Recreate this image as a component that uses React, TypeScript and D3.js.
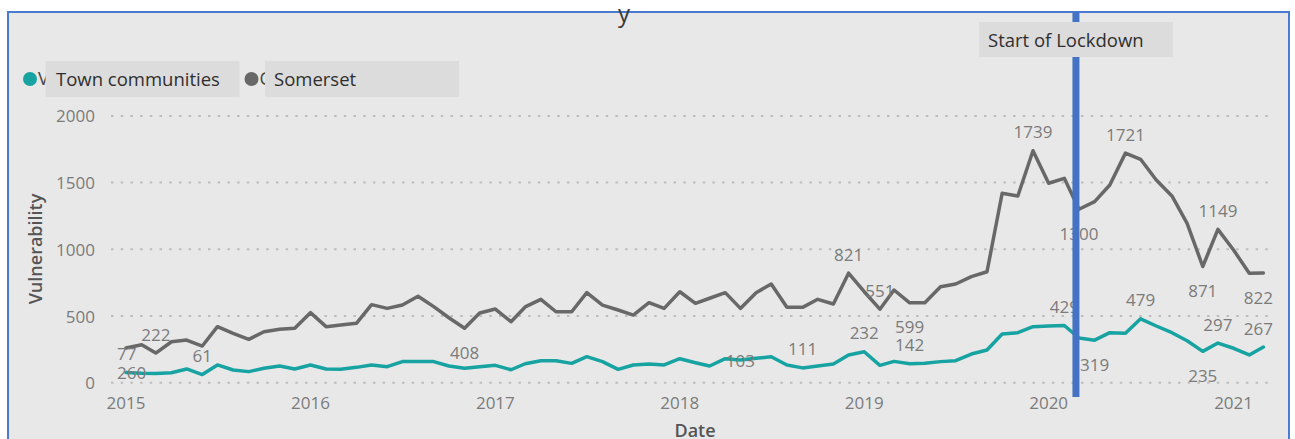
import React from "react";
import * as d3 from "d3";

// ---- data ----
const seriesNames = ["Town communities", "Somerset"];
const startYear = 2015;
const monthCount = 75; // Jan 2015 .. Mar 2021

const somerset = [
  260, 285, 222, 307, 320, 275, 420, 370, 325, 382, 400, 408,
  525, 420, 432, 445, 585, 557, 582, 648, 570, 487, 408, 522,
  552, 457, 568, 625, 532, 532, 675, 582, 545, 507, 600, 557,
  682, 595, 633, 675, 557, 675, 740, 565, 565, 625, 590, 821,
  682, 551, 695, 599, 600, 720, 740, 795, 832, 1420, 1400, 1739,
  1495, 1532, 1300, 1357, 1482, 1721, 1675, 1520, 1400, 1195, 871, 1149,
  995, 820, 822,
];

const town = [
  77, 70, 69, 75, 103, 61, 133, 95, 83, 108, 125, 103,
  133, 103, 100, 115, 133, 120, 158, 158, 158, 125, 108, 120,
  130, 97, 142, 165, 165, 145, 195, 158, 100, 133, 140, 133,
  180, 150, 125, 180, 170, 183, 195, 133, 111, 125, 140, 208,
  232, 130, 160, 142, 145, 158, 165, 215, 245, 365, 375, 420,
  425, 429, 335, 319, 375, 370, 479, 425, 375, 315, 235, 297,
  258, 208, 267,
];

const yTicks = [0, 500, 1000, 1500, 2000];

// data labels: series (0 = town, 1 = somerset), month index, placement
const labelSeries = [1, 0, 1, 0, 1, 0, 0, 1, 0, 1, 1, 0, 1, 0, 1, 0, 1, 0, 1, 0, 1, 0, 1, 0];
const labelIndex = [0, 0, 2, 5, 22, 40, 44, 47, 48, 49, 51, 51, 59, 61, 62, 63, 65, 66, 70, 70, 71, 71, 74, 74];
const labelText = [260, 77, 222, 61, 408, 103, 111, 821, 232, 551, 599, 142, 1739, 429, 1300, 319, 1721, 479, 871, 235, 1149, 297, 822, 267];
const labelPlace = ["below", "above", "above", "above", "below", "center", "above", "above", "above", "above", "below", "above", "above", "above", "below", "below", "above", "above", "below", "below", "above", "above", "below", "above"];

const lockdownDate = new Date(2020, 1, 24);
const lockdownText = "Start of Lockdown";

// ---- styles ----
const W = 1295;
const H = 439;
const FONT = "'Segoe UI', 'Open Sans', sans-serif";
const teal = "#17a3a1";
const grey = "#686868";
const panelFill = "#e8e8e8";
const boxFill = "#dcdcdc";
const textGrey = "#7b7b7b";

export default function App() {
  const months = d3.range(monthCount).map((i) => new Date(startYear, i, 1));
  const x = d3
    .scaleTime()
    .domain([months[0], months[months.length - 1]])
    .range([126, 1263.4]);
  const y = d3.scaleLinear().domain([0, 2000]).range([382.7, 115.9]);

  const line = d3
    .line<number>()
    .x((_, i) => x(months[i]))
    .y((d) => y(d));

  const series = [town, somerset];
  const colors = [teal, grey];
  const years = x.ticks(d3.timeYear.every(1));

  const gridX0 = 111;
  const gridX1 = 1273;

  const lx = x(lockdownDate);

  return (
    <svg
      width={W}
      height={H}
      style={{ position: "absolute", left: 0, top: 0, fontFamily: FONT }}
    >
      <rect x={0} y={0} width={W} height={H} fill="#ffffff" />
      <rect x={8} y={12} width={1281} height={440} fill={panelFill} stroke="#4a7bd1" strokeWidth={2} />
      {/* partially hidden title */}
      <text x={618} y={22} fontSize={24} fill="#3a3a3a">
        y
      </text>

      {/* legend */}
      <circle cx={30} cy={79} r={7} fill={teal} />
      <text x={38} y={85} fontSize={18} fill="#444">V</text>
      <rect x={45.5} y={61} width={194} height={36} fill={boxFill} />
      <text x={56} y={86} fontSize={18.5} fill="#2f2f2f">{seriesNames[0]}</text>
      <circle cx={251.5} cy={79} r={7} fill={grey} />
      <text x={259.5} y={85} fontSize={18} fill="#444">C</text>
      <rect x={265} y={61} width={194} height={36} fill={boxFill} />
      <text x={274} y={86} fontSize={18.5} fill="#2f2f2f">{seriesNames[1]}</text>

      {/* gridlines and y ticks */}
      {yTicks.map((t) => (
        <g key={t}>
          <line
            x1={gridX0}
            x2={gridX1}
            y1={y(t)}
            y2={y(t)}
            stroke="#bdbdbd"
            strokeWidth={2}
            strokeDasharray="2.5 7.2"
          />
          <text
            x={95}
            y={y(t)}
            fontSize={17}
            fill={textGrey}
            textAnchor="end"
            dominantBaseline="central"
          >
            {t}
          </text>
        </g>
      ))}

      {/* x ticks */}
      {years.map((d) => (
        <text
          key={d.getFullYear()}
          x={x(d)}
          y={402}
          fontSize={17}
          fill={textGrey}
          textAnchor="middle"
          dominantBaseline="central"
        >
          {d.getFullYear()}
        </text>
      ))}

      {/* axis titles */}
      <text
        transform={`translate(35,249) rotate(-90)`}
        fontSize={18}
        fontWeight={600}
        fill="#555"
        textAnchor="middle"
        dominantBaseline="central"
      >
        Vulnerability
      </text>
      <text x={695} y={437} fontSize={18} fontWeight={600} fill="#555" textAnchor="middle">
        Date
      </text>

      {/* lines */}
      {series.map((s, k) => (
        <path
          key={k}
          d={line(s) || ""}
          fill="none"
          stroke={colors[k]}
          strokeWidth={3.5}
          strokeLinejoin="round"
          strokeLinecap="round"
        />
      ))}

      {/* data labels */}
      {labelText.map((t, j) => {
        const s = series[labelSeries[j]];
        const i = labelIndex[j];
        const px = x(months[i]);
        const py = y(s[i]);
        const dy = labelPlace[j] === "above" ? -19 : labelPlace[j] === "below" ? 24 : 0;
        const w = String(t).length * 9.7;
        const cx = Math.min(Math.max(px, gridX0 + 6 + w / 2), gridX1 - w / 2);
        return (
          <text
            key={j}
            x={cx}
            y={py + dy}
            fontSize={17}
            fill={textGrey}
            textAnchor="middle"
            dominantBaseline="central"
          >
            {t}
          </text>
        );
      })}

      {/* lockdown marker */}
      <line x1={lx} x2={lx} y1={12} y2={397} stroke="#4472c4" strokeWidth={7} />
      <rect x={979} y={22} width={194} height={35} fill={boxFill} />
      <text x={988} y={47} fontSize={18.5} fill="#2f2f2f">
        {lockdownText}
      </text>
    </svg>
  );
}
